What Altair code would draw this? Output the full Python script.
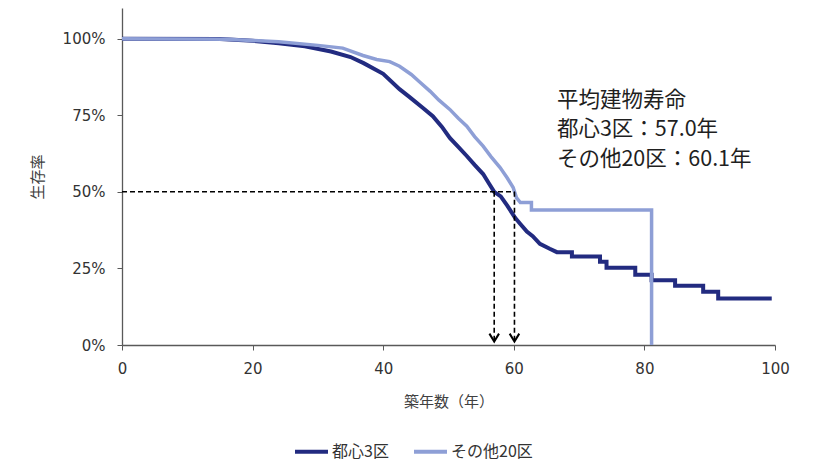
import altair as alt
import pandas as pd

# ---- data ----
series_names = ["都心3区", "その他20区"]
series_colors = ["#222B80", "#8E9FD6"]

dark_year = [0, 15, 20, 24, 28, 32, 35, 37, 40, 42.5, 44, 46, 47.6, 49, 50.2, 51.5,
             52.8, 54, 55.3, 56.2, 57.0, 58, 59, 60.2, 61, 62, 62.9, 64, 65.5, 66.6,
             68.9, 68.9, 73.2, 73.2, 74.2, 74.2, 78.6, 78.6, 81.1, 81.1, 84.7, 84.7,
             89, 89, 91.3, 91.3, 99.5]
dark_val = [1.0, 0.999, 0.993, 0.985, 0.975, 0.958, 0.94, 0.92, 0.885, 0.835, 0.81, 0.775,
            0.747, 0.712, 0.676, 0.647, 0.617, 0.588, 0.558, 0.527, 0.50, 0.485, 0.455,
            0.415, 0.395, 0.37, 0.355, 0.33, 0.314, 0.303, 0.303, 0.289, 0.289, 0.272,
            0.272, 0.252, 0.252, 0.229, 0.229, 0.211, 0.211, 0.193, 0.193, 0.174, 0.174,
            0.152, 0.152]

light_year = [0, 16, 24, 30, 33.8, 36.9, 39, 41, 42.5, 44.3, 45.5, 47.2, 48.5, 50.2,
              51.5, 52.8, 54, 55.3, 56.5, 57.9, 59, 59.9, 60.4, 61, 62.7, 62.7, 81.1, 81.1]
light_val = [1.0, 0.998, 0.99, 0.978, 0.969, 0.945, 0.932, 0.925, 0.91, 0.883, 0.86,
             0.828, 0.80, 0.769, 0.74, 0.714, 0.68, 0.649, 0.615, 0.579, 0.545, 0.514,
             0.481, 0.465, 0.465, 0.441, 0.441, 0.0]

median_years = [57.0, 60.1]
median_level = 0.5
arrow_tip = 0.011

x_ticks = [0, 20, 40, 60, 80, 100]
y_ticks = [0, 0.25, 0.5, 0.75, 1.0]

annot_lines = ["平均建物寿命", "都心3区：57.0年", "その他20区：60.1年"]
annot_x = [66.6, 66.6, 66.6]
annot_y = [0.795, 0.701, 0.604]

# ---- tables ----
rows = []
for i, (x, v) in enumerate(zip(dark_year, dark_val)):
    rows.append({"series": series_names[0], "year": x, "val": v, "ord": i})
for i, (x, v) in enumerate(zip(light_year, light_val)):
    rows.append({"series": series_names[1], "year": x, "val": v, "ord": i})
df = pd.DataFrame(rows)

hline_df = pd.DataFrame({"x": [0], "x2": [max(median_years)], "y": [median_level]})
vline_df = pd.DataFrame({"x": median_years, "y": [median_level] * 2, "y2": [arrow_tip] * 2})
arrow_df = pd.DataFrame({"x": median_years, "y": [arrow_tip] * 2})
text_df = pd.DataFrame({"x": annot_x, "y": annot_y, "t": annot_lines})

x_scale = alt.Scale(domain=[0, 100], nice=False)
y_scale = alt.Scale(domain=[0, 1.1], nice=False)
color_scale = alt.Scale(domain=series_names, range=series_colors)

x_axis = alt.Axis(values=x_ticks, title="築年数（年）", grid=False, labelFont="DejaVu Sans",
                  labelFontSize=15, labelColor="#333333", labelPadding=11, labelFlush=False,
                  titleFont="Noto Sans CJK JP", titleFontSize=15, titleFontWeight="normal",
                  titleColor="#404040", titlePadding=18, domainColor="#595959",
                  tickColor="#595959", tickSize=5, domainWidth=1.3)
y_axis = alt.Axis(values=y_ticks, format=".0%", title="生存率", grid=False,
                  labelFont="DejaVu Sans", labelFontSize=15, labelColor="#333333",
                  labelPadding=12, labelFlush=False, titleFont="Noto Sans CJK JP",
                  titleFontSize=15, titleFontWeight="normal", titleColor="#404040",
                  titlePadding=17, domainColor="#595959", tickColor="#595959", tickSize=5,
                  domainWidth=1.3)

legend = alt.Legend(title=None, orient="none", legendX=171, legendY=425, direction="horizontal",
                    symbolType="stroke", symbolSize=1089, symbolStrokeWidth=4,
                    labelFont="Noto Sans CJK JP", labelFontSize=16, labelColor="#333333",
                    labelOffset=2, columnPadding=17)

base_enc = dict(
    x=alt.X("year:Q", scale=x_scale, axis=x_axis),
    y=alt.Y("val:Q", scale=y_scale, axis=y_axis),
    color=alt.Color("series:N", scale=color_scale, legend=legend, sort=series_names),
    order=alt.Order("ord:Q"),
)

dark_line = alt.Chart(df).transform_filter(
    alt.datum.series == series_names[0]
).mark_line(strokeWidth=4).encode(**base_enc)

light_line = alt.Chart(df).transform_filter(
    alt.datum.series == series_names[1]
).mark_line(strokeWidth=3.5).encode(**base_enc)

hline = alt.Chart(hline_df).mark_rule(color="black", strokeDash=[5, 3], strokeWidth=1.6).encode(
    x=alt.X("x:Q", scale=x_scale), x2="x2:Q", y=alt.Y("y:Q", scale=y_scale))
vline = alt.Chart(vline_df).mark_rule(color="black", strokeDash=[5, 3], strokeWidth=1.6).encode(
    x=alt.X("x:Q", scale=x_scale), y=alt.Y("y:Q", scale=y_scale), y2="y2:Q")
arrows = alt.Chart(arrow_df).mark_point(
    shape="M -0.6 -1 L 0 0 L 0.6 -1", filled=False, size=256, strokeWidth=2, color="black", opacity=1
).encode(x=alt.X("x:Q", scale=x_scale), y=alt.Y("y:Q", scale=y_scale))

texts = alt.Chart(text_df).mark_text(
    align="left", baseline="middle", font="Noto Sans CJK JP", fontSize=21.5, color="#1f1f1f"
).encode(x=alt.X("x:Q", scale=x_scale), y=alt.Y("y:Q", scale=y_scale), text="t:N")

chart = alt.layer(dark_line, light_line, hline, vline, arrows, texts).properties(
    width=653, height=337,
    autosize=alt.AutoSizeParams(type="none"),
    padding={"left": 114, "top": 0, "right": 35, "bottom": 117},
    background="white",
).configure_view(stroke=None)

chart.save("out.html", embed_options={"renderer": "svg", "actions": False})
